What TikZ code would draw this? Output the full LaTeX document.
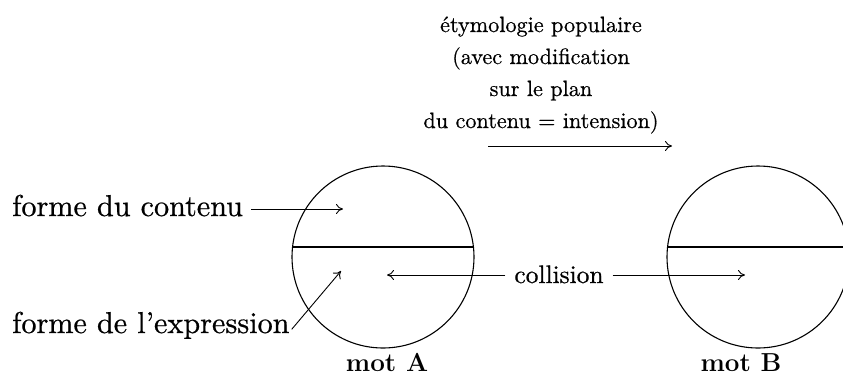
\documentclass[tikz,border=0pt]{standalone}
\usepackage{fontspec}
\newfontface\semib{lmroman10-regular.otf}[FakeBold=0.6,Ligatures=TeX]
\usetikzlibrary{arrows.meta,calc}
\begin{document}
\begin{tikzpicture}[x=1pt,y=-1pt,
  lbl/.style={font=\semib\fontsize{30.2}{32}\selectfont, inner sep=0pt},
  collbl/.style={font=\semib\fontsize{25.4}{32}\selectfont, inner sep=0pt},
  ttl/.style={font=\semib\fontsize{22.2}{32}\selectfont, inner sep=0pt, align=center},
  motlbl/.style={font=\fontsize{26}{32}\selectfont\bfseries, inner sep=0pt},
  word/.style={circle, draw, line width=1.1pt, minimum size=182pt, inner sep=0pt},
  chord/.style={line width=1.1pt},
  conn/.style={line width=0.9pt, -{To[length=7pt,width=10pt,line width=0.9pt]}}
]
\useasboundingbox (0,0) rectangle (843,376);
\clip (0,0) rectangle (843,376);

% words
\node[word] (A) at (383,257) {};
\node[word] (B) at (758,257) {};
\draw[chord] ($(A.center)+(-90.4,-10)$) -- ($(A.center)+(90.4,-10)$);
\draw[chord] ($(B.center)+(-90.4,-10)$) -- ($(B.center)+(90.4,-10)$);

% title
\node[ttl, anchor=base] (title) at (541,128)
  {étymologie populaire\\(avec modification\\sur le plan\\du contenu = intension)};
\coordinate (t1) at (488,146);
\coordinate (t2) at (672,146);
\draw[conn] (t1) -- (t2);

% labels
\node[lbl, anchor=base west] (fc) at (12,216) {forme du contenu};
\node[lbl, anchor=base west] (fe) at (12,333) {forme de l’expression};
\node[collbl, anchor=base] (col) at (559,283) {collision};
\node[motlbl, anchor=base] (ma) at (387,371) {mot A};
\node[motlbl, anchor=base] (mb) at (741,371) {mot B};

\coordinate (pc) at (343,209);
\coordinate (pe) at (341,271);
\coordinate (pa) at (387,275);
\coordinate (pb) at (745,275);

\draw[conn] ([xshift=8pt]fc.east |- pc) -- (pc);
\draw[conn] ([xshift=2pt,yshift=-4pt]fe.east) -- (pe);
\draw[conn] ([xshift=-9pt]col.west |- pa) -- (pa);
\draw[conn] ([xshift=9pt]col.east |- pb) -- (pb);
\end{tikzpicture}
\end{document}
